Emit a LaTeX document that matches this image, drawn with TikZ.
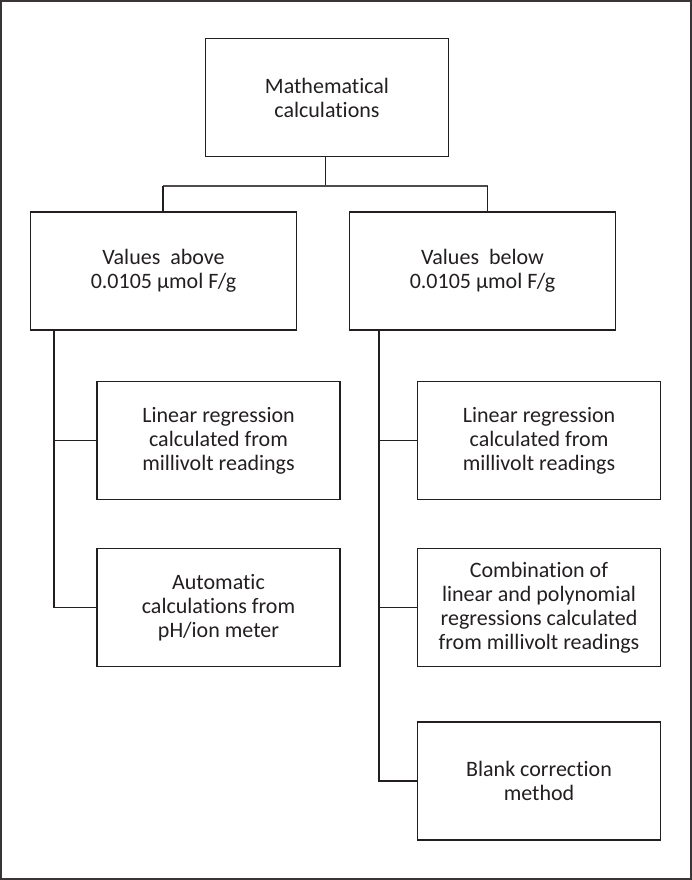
\documentclass[tikz,border=0pt]{standalone}
\usepackage{fontspec}
\setmainfont[Ligatures=NoCommon]{Carlito}
\definecolor{ink}{HTML}{231F20}
\begin{document}
\begin{tikzpicture}[x=1pt,y=-1pt,
  box/.style={draw=ink, line width=1.2pt, align=center, inner sep=0pt,
    font=\fontsize{22}{24}\selectfont, text=ink},
  conn/.style={draw=ink, line width=1.2pt}]
\useasboundingbox (0,0) rectangle (692,880);
\draw[draw=ink!90, line width=2pt] (1,1) rectangle (691,879);
\node[box, minimum width=243pt, minimum height=118pt] (top) at (327,97.5) {Mathematical\\calculations};
\node[box, minimum width=266pt, minimum height=118pt] (L) at (163.5,271) {Values~ above\\0.0105 µmol F/g};
\node[box, minimum width=266pt, minimum height=118pt] (R) at (482.5,271) {Values~ below\\0.0105 µmol F/g};
\node[box, minimum width=243pt, minimum height=118pt] (L1) at (218.5,440.5) {Linear regression\\calculated from\\millivolt readings};
\node[box, minimum width=243pt, minimum height=118pt] (L2) at (218.5,607.5) {Automatic\\calculations from\\pH/ion meter};
\node[box, minimum width=243pt, minimum height=118pt] (R1) at (539,440.5) {Linear regression\\calculated from\\millivolt readings};
\node[box, minimum width=243pt, minimum height=118pt] (R2) at (539,607.5) {Combination of\\linear and polynomial\\regressions calculated\\from millivolt readings};
\node[box, minimum width=243pt, minimum height=118pt] (R3) at (539,781) {Blank correction\\method};
\coordinate (j) at (325.5,186);
\coordinate (jl) at (163,186);
\coordinate (jr) at (487.5,186);
\coordinate (sl) at (54,330);
\coordinate (sr) at (379,330);
\draw[conn] (top.south -| j) -- (j);
\draw[conn, draw=ink!80, line width=1.8pt] (jl) -- (jr);
\draw[conn] (jl) -- (jl |- L.north);
\draw[conn] (jr) -- (jr |- R.north);
\draw[conn] (sl) -- (sl |- L2.west) -- (L2.west);
\draw[conn] (sl |- L1.west) -- (L1.west);
\draw[conn] (sr) -- (sr |- R3.west) -- (R3.west);
\draw[conn] (sr |- R1.west) -- (R1.west);
\draw[conn] (sr |- R2.west) -- (R2.west);
\end{tikzpicture}
\end{document}
